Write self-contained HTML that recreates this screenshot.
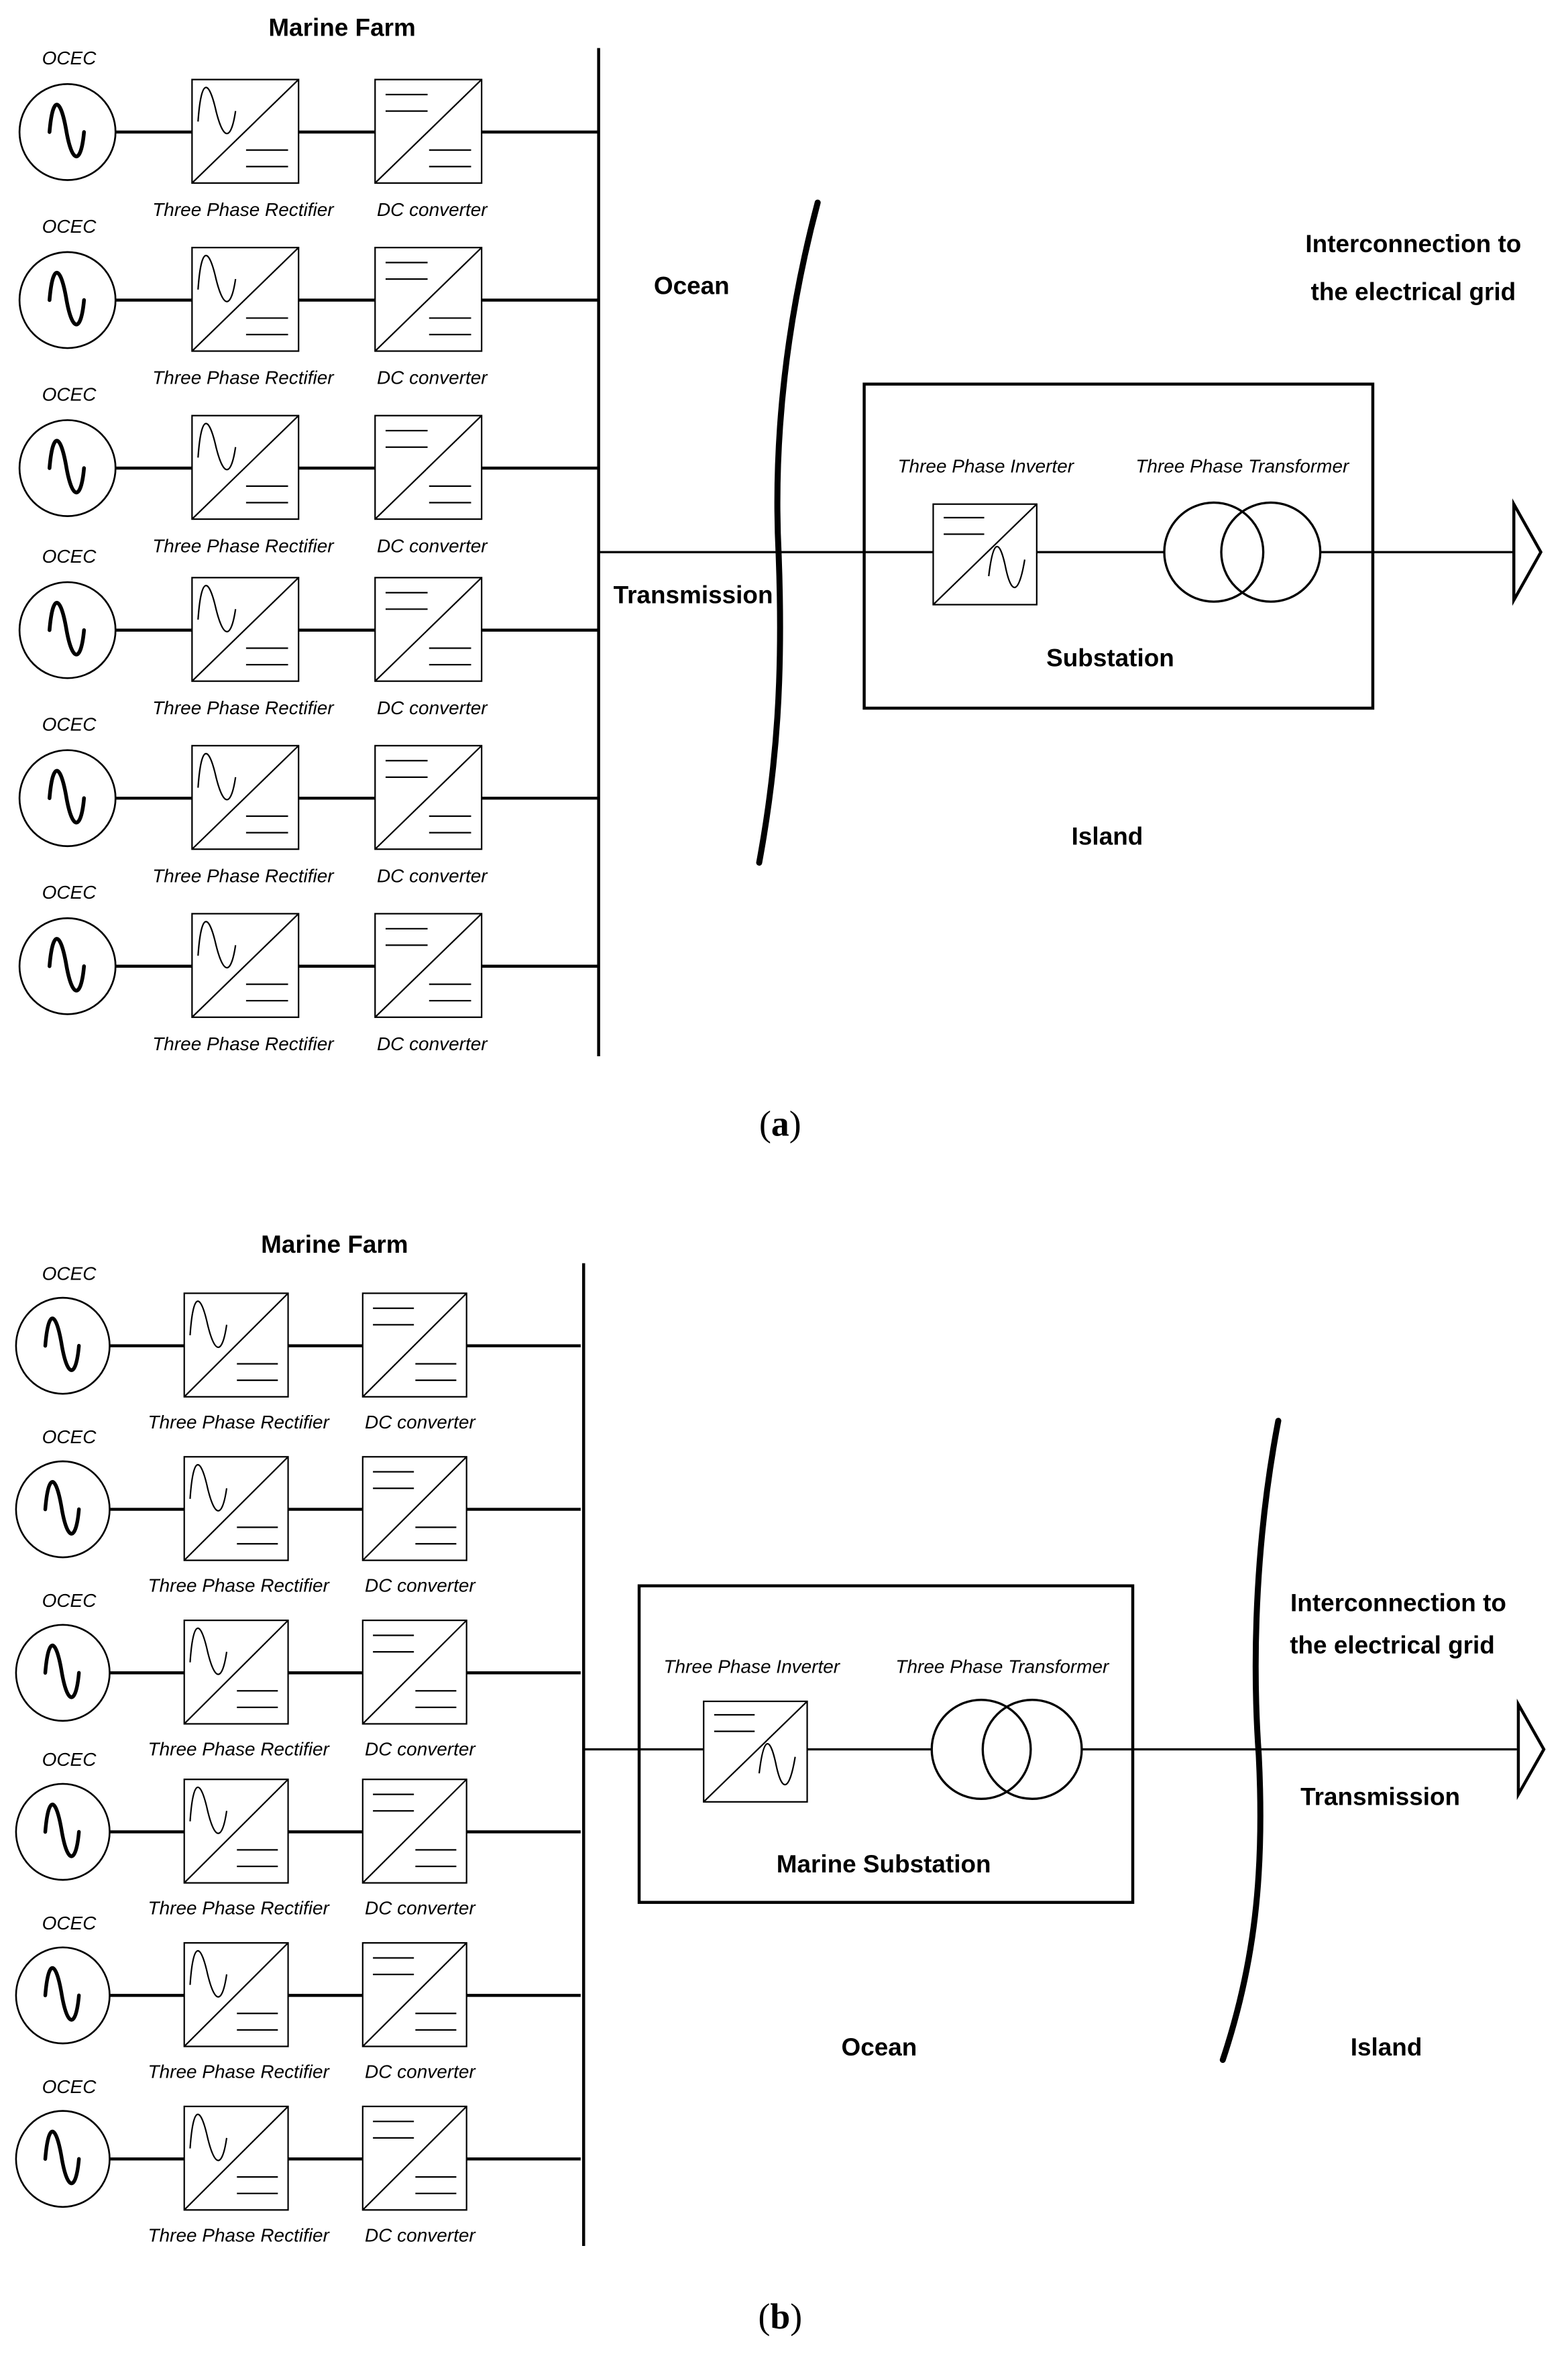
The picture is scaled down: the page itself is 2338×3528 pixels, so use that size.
<!DOCTYPE html>
<html><head><meta charset="utf-8"><style>
html,body{margin:0;padding:0;background:#fff;}
svg{display:block;}
text{font-family:"Liberation Sans",Arial,sans-serif;fill:#000;}
.b{font-weight:bold;font-size:16.5px;}
.i{font-style:italic;font-size:12.5px;}
.cap{font-family:"Liberation Serif",serif;font-size:24px;}
</style></head><body>
<svg width="2338" height="3528" viewBox="0 0 1045.1 1577" xmlns="http://www.w3.org/2000/svg">
<defs>
<g id="rect">
<rect x="0" y="-35" width="71" height="69" fill="none" stroke="#000" stroke-width="1"/>
<line x1="0" y1="34" x2="71" y2="-35" stroke="#000" stroke-width="1"/>
<path d="M4,-7 C6,-36 11,-36 16,-14 C21,6 26,6 29,-14" fill="none" stroke="#000" stroke-width="1"/>
<line x1="36" y1="12" x2="64" y2="12" stroke="#000" stroke-width="1"/>
<line x1="36" y1="23" x2="64" y2="23" stroke="#000" stroke-width="1"/>
</g>
<g id="dc">
<rect x="0" y="-35" width="71" height="69" fill="none" stroke="#000" stroke-width="1"/>
<line x1="0" y1="34" x2="71" y2="-35" stroke="#000" stroke-width="1"/>
<line x1="7" y1="-25" x2="35" y2="-25" stroke="#000" stroke-width="1"/>
<line x1="7" y1="-14" x2="35" y2="-14" stroke="#000" stroke-width="1"/>
<line x1="36" y1="12" x2="64" y2="12" stroke="#000" stroke-width="1"/>
<line x1="36" y1="23" x2="64" y2="23" stroke="#000" stroke-width="1"/>
</g>
<g id="gen">
<circle cx="0" cy="0" r="32" fill="none" stroke="#000" stroke-width="1.2"/>
<path d="M-12,0 C-10,-24 -5,-24 -1,-2 C3,22 9,22 11,0" fill="none" stroke="#000" stroke-width="2.5" stroke-linecap="round"/>
</g>
<g id="inv">
<rect x="0" y="-33" width="69" height="67" fill="none" stroke="#000" stroke-width="1"/>
<line x1="0" y1="34" x2="69" y2="-33" stroke="#000" stroke-width="1"/>
<line x1="7" y1="-24" x2="34" y2="-24" stroke="#000" stroke-width="1"/>
<line x1="7" y1="-13" x2="34" y2="-13" stroke="#000" stroke-width="1"/>
<path d="M37,15 C40,-10 44,-10 48,8 C52,28 57,28 61,4" fill="none" stroke="#000" stroke-width="1"/>
</g>
<g id="row">
<use href="#gen" x="45" y="0"/>
<line x1="77" y1="0" x2="128" y2="0" stroke="#000" stroke-width="2"/>
<use href="#rect" x="128" y="0"/>
<line x1="199" y1="0" x2="250" y2="0" stroke="#000" stroke-width="2"/>
<use href="#dc" x="250" y="0"/>
<line x1="321" y1="0" x2="399" y2="0" stroke="#000" stroke-width="2"/>
</g>
</defs>

<!-- (a) -->
<text class="b" x="228" y="24" text-anchor="middle">Marine Farm</text>
<line x1="399" y1="32" x2="399" y2="704" stroke="#000" stroke-width="2"/>
<g>
<use href="#row" y="88"/><use href="#row" y="200"/><use href="#row" y="312"/>
<use href="#row" y="420"/><use href="#row" y="532"/><use href="#row" y="644"/>
</g>
<g class="i">
<text class="i" x="28" y="43">OCEC</text><text class="i" x="28" y="155">OCEC</text><text class="i" x="28" y="267">OCEC</text>
<text class="i" x="28" y="375">OCEC</text><text class="i" x="28" y="487">OCEC</text><text class="i" x="28" y="599">OCEC</text>
</g>
<g>
<text class="i" x="162" y="144" text-anchor="middle">Three Phase Rectifier</text><text class="i" x="288" y="144" text-anchor="middle">DC converter</text>
<text class="i" x="162" y="256" text-anchor="middle">Three Phase Rectifier</text><text class="i" x="288" y="256" text-anchor="middle">DC converter</text>
<text class="i" x="162" y="368" text-anchor="middle">Three Phase Rectifier</text><text class="i" x="288" y="368" text-anchor="middle">DC converter</text>
<text class="i" x="162" y="476" text-anchor="middle">Three Phase Rectifier</text><text class="i" x="288" y="476" text-anchor="middle">DC converter</text>
<text class="i" x="162" y="588" text-anchor="middle">Three Phase Rectifier</text><text class="i" x="288" y="588" text-anchor="middle">DC converter</text>
<text class="i" x="162" y="700" text-anchor="middle">Three Phase Rectifier</text><text class="i" x="288" y="700" text-anchor="middle">DC converter</text>
</g>
<line x1="399" y1="368" x2="622" y2="368" stroke="#000" stroke-width="1.5"/>
<use href="#inv" x="622" y="369"/>
<line x1="691" y1="368" x2="776" y2="368" stroke="#000" stroke-width="1.5"/>
<circle cx="809" cy="368" r="33" fill="none" stroke="#000" stroke-width="1.5"/>
<circle cx="847" cy="368" r="33" fill="none" stroke="#000" stroke-width="1.5"/>
<line x1="880" y1="368" x2="1008" y2="368" stroke="#000" stroke-width="1.5"/>
<path d="M1009,336 L1027,368 L1009,400 Z" fill="none" stroke="#000" stroke-width="2"/>
<rect x="576" y="256" width="339" height="216" fill="none" stroke="#000" stroke-width="2"/>
<path d="M545,135 C525,210 515,290 519,370 C522,450 518,510 506,575" fill="none" stroke="#000" stroke-width="4" stroke-linecap="round"/>
<text class="b" x="461" y="196" text-anchor="middle">Ocean</text>
<text class="b" x="462" y="402" text-anchor="middle">Transmission</text>
<text class="i" x="657" y="315" text-anchor="middle">Three Phase Inverter</text>
<text class="i" x="828" y="315" text-anchor="middle">Three Phase Transformer</text>
<text class="b" x="740" y="444" text-anchor="middle">Substation</text>
<text class="b" x="738" y="563" text-anchor="middle">Island</text>
<text class="b" x="942" y="168" text-anchor="middle">Interconnection to</text>
<text class="b" x="942" y="200" text-anchor="middle">the electrical grid</text>
<text class="cap" x="520" y="757" text-anchor="middle">(<tspan font-weight="bold">a</tspan>)</text>

<!-- (b) -->
<text class="b" x="223" y="835" text-anchor="middle">Marine Farm</text>
<line x1="389" y1="842" x2="389" y2="1497" stroke="#000" stroke-width="2"/>
<g transform="translate(-2,0) scale(0.975,1)">
<use href="#row" y="897"/><use href="#row" y="1006"/><use href="#row" y="1115"/>
<use href="#row" y="1221"/><use href="#row" y="1330"/><use href="#row" y="1439"/>
</g>
<text class="i" x="28" y="853">OCEC</text><text class="i" x="28" y="962">OCEC</text><text class="i" x="28" y="1071">OCEC</text>
<text class="i" x="28" y="1177">OCEC</text><text class="i" x="28" y="1286">OCEC</text><text class="i" x="28" y="1395">OCEC</text>
<text class="i" x="159" y="952" text-anchor="middle">Three Phase Rectifier</text><text class="i" x="280" y="952" text-anchor="middle">DC converter</text>
<text class="i" x="159" y="1061" text-anchor="middle">Three Phase Rectifier</text><text class="i" x="280" y="1061" text-anchor="middle">DC converter</text>
<text class="i" x="159" y="1170" text-anchor="middle">Three Phase Rectifier</text><text class="i" x="280" y="1170" text-anchor="middle">DC converter</text>
<text class="i" x="159" y="1276" text-anchor="middle">Three Phase Rectifier</text><text class="i" x="280" y="1276" text-anchor="middle">DC converter</text>
<text class="i" x="159" y="1385" text-anchor="middle">Three Phase Rectifier</text><text class="i" x="280" y="1385" text-anchor="middle">DC converter</text>
<text class="i" x="159" y="1494" text-anchor="middle">Three Phase Rectifier</text><text class="i" x="280" y="1494" text-anchor="middle">DC converter</text>
<line x1="389" y1="1166" x2="469" y2="1166" stroke="#000" stroke-width="1.5"/>
<use href="#inv" x="469" y="1167"/>
<line x1="538" y1="1166" x2="621" y2="1166" stroke="#000" stroke-width="1.5"/>
<circle cx="654" cy="1166" r="33" fill="none" stroke="#000" stroke-width="1.5"/>
<circle cx="688" cy="1166" r="33" fill="none" stroke="#000" stroke-width="1.5"/>
<line x1="721" y1="1166" x2="1011" y2="1166" stroke="#000" stroke-width="1.5"/>
<path d="M1012,1136 L1029,1166 L1012,1196 Z" fill="none" stroke="#000" stroke-width="2"/>
<rect x="426" y="1057" width="329" height="211" fill="none" stroke="#000" stroke-width="2"/>
<path d="M852,947 C838,1020 834,1100 839,1170 C843,1250 836,1310 815,1373" fill="none" stroke="#000" stroke-width="4" stroke-linecap="round"/>
<text class="i" x="501" y="1115" text-anchor="middle">Three Phase Inverter</text>
<text class="i" x="668" y="1115" text-anchor="middle">Three Phase Transformer</text>
<text class="b" x="589" y="1248" text-anchor="middle">Marine Substation</text>
<text class="b" x="932" y="1074" text-anchor="middle">Interconnection to</text>
<text class="b" x="928" y="1102" text-anchor="middle">the electrical grid</text>
<text class="b" x="920" y="1203" text-anchor="middle">Transmission</text>
<text class="b" x="586" y="1370" text-anchor="middle">Ocean</text>
<text class="b" x="924" y="1370" text-anchor="middle">Island</text>
<text class="cap" x="520" y="1552" text-anchor="middle">(<tspan font-weight="bold">b</tspan>)</text>
</svg>
</body></html>
